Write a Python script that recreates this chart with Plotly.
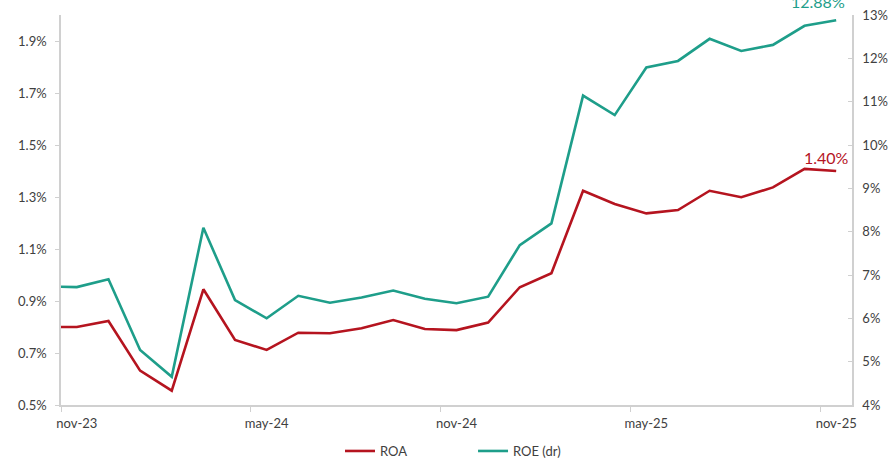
import plotly.graph_objects as go

months = ["oct-23", "nov-23", "dec-23", "jan-24", "feb-24", "mar-24", "apr-24", "may-24",
          "jun-24", "jul-24", "aug-24", "sep-24", "oct-24", "nov-24", "dec-24", "jan-25",
          "feb-25", "mar-25", "apr-25", "may-25", "jun-25", "jul-25", "aug-25", "sep-25",
          "oct-25", "nov-25"]
roa = [0.80, 0.80, 0.823, 0.632, 0.555, 0.945, 0.75, 0.712, 0.778, 0.776, 0.795, 0.827,
       0.792, 0.788, 0.817, 0.953, 1.007, 1.324, 1.273, 1.237, 1.25, 1.324, 1.299, 1.337,
       1.408, 1.40]
roe = [6.74, 6.72, 6.90, 5.27, 4.65, 8.09, 6.42, 6.00, 6.52, 6.36, 6.48, 6.64, 6.45,
       6.35, 6.50, 7.69, 8.19, 11.14, 10.69, 11.79, 11.94, 12.45, 12.17, 12.31, 12.75, 12.88]
label_months = ["nov-23", "may-24", "nov-24", "may-25", "nov-25"]

RED = "#B5141F"
TEAL = "#1E9E8A"
GRID = "#D0D0D0"
TXT = "#404040"
FONT = "Lato"

x = list(range(len(months)))
tickvals = [months.index(m) for m in label_months]

fig = go.Figure()
fig.add_trace(go.Scatter(x=x, y=roa, name="ROA", mode="lines", legend="legend",
                         line=dict(color=RED, width=2.6), yaxis="y"))
fig.add_trace(go.Scatter(x=x, y=roe, name="ROE (dr)", mode="lines", legend="legend2",
                         line=dict(color=TEAL, width=2.6), yaxis="y2"))

fig.add_annotation(x=x[-1], y=roe[-1], yref="y2", text=f"{roe[-1]:.2f}%", showarrow=False,
                   xshift=-18, yshift=19, font=dict(family=FONT, size=16, color=TEAL))
fig.add_annotation(x=x[-1], y=roa[-1], yref="y", text=f"{roa[-1]:.2f}%", showarrow=False,
                   xshift=-10, yshift=14, font=dict(family=FONT, size=16, color=RED))

leg_common = dict(orientation="h", xanchor="left", y=-0.118, yanchor="middle",
                  font=dict(family=FONT, size=13, color=TXT), itemwidth=30)

fig.update_layout(
    width=894, height=460,
    margin=dict(l=61, r=42, t=15, b=55, autoexpand=False),
    paper_bgcolor="white", plot_bgcolor="white",
    font=dict(family=FONT, size=13, color=TXT),
    showlegend=True,
    legend=dict(x=0.3527, **leg_common),
    legend2=dict(x=0.5209, **leg_common),
    xaxis=dict(range=[0.5, len(months) - 0.5], showgrid=False, zeroline=False,
               showline=True, linecolor=GRID, linewidth=1.5, automargin=False,
               tickmode="array", tickvals=tickvals, ticktext=label_months,
               ticks="", ticklabelstandoff=6, tickfont=dict(family=FONT, size=13, color=TXT),
               minor=dict(tickmode="array", tickvals=[v - 0.5 for v in tickvals],
                          ticks="outside", ticklen=5, tickcolor=GRID, tickwidth=1)),
    yaxis=dict(range=[0.5, 2.0], tick0=0.5, dtick=0.2, tickformat=".1f", ticksuffix="%",
               showgrid=False, zeroline=False, showline=True, linecolor=GRID, linewidth=1.5,
               ticks="outside", ticklen=4, tickcolor=GRID, automargin=False,
               ticklabelstandoff=6,
               tickfont=dict(family=FONT, size=13, color=TXT)),
    yaxis2=dict(range=[4, 13], tick0=4, dtick=1, ticksuffix="%", overlaying="y", side="right",
                showgrid=False, zeroline=False, showline=True, linecolor=GRID, linewidth=1.5,
                ticks="inside", ticklen=4, tickcolor=GRID, automargin=False,
                ticklabelstandoff=6,
                tickfont=dict(family=FONT, size=13, color=TXT)),
)

fig.write_html("out.html", config={"displayModeBar": False},
               post_script="document.body.style.margin='0';")
